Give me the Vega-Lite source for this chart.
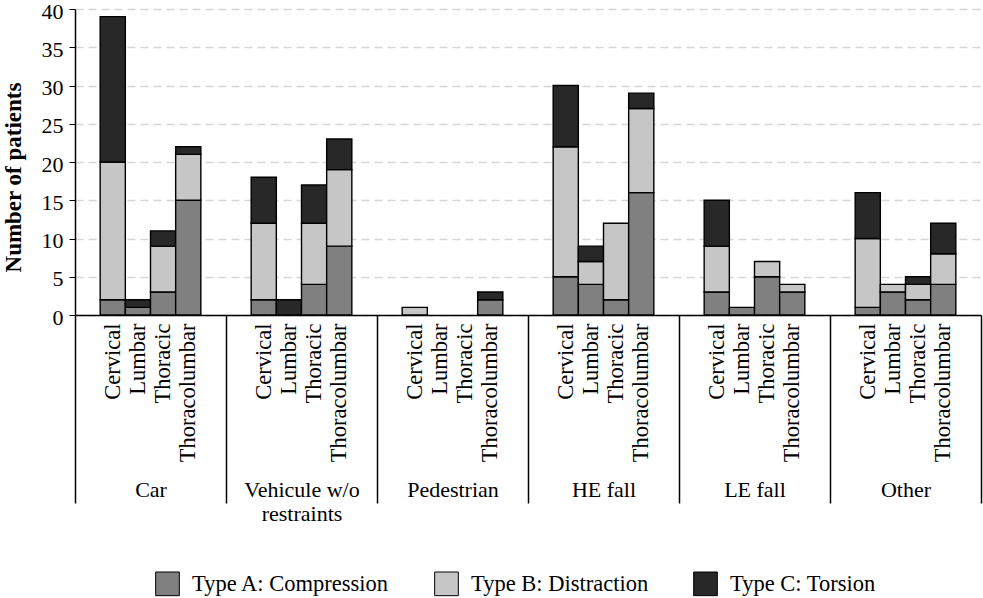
{
  "$schema": "https://vega.github.io/schema/vega-lite/v6.json",
  "width": 906,
  "height": 306,
  "autosize": {"type": "none"},
  "padding": {"left": 75, "top": 9, "right": 2, "bottom": 283},
  "background": "white",
  "config": {
    "view": {"stroke": null},
    "font": "Liberation Serif",
    "axis": {"labelFont": "Liberation Serif", "titleFont": "Liberation Serif", "labelColor": "black", "titleColor": "black"},
    "legend": {"labelFont": "Liberation Serif"}
  },
  "data": {
    "values": [
      {"group": "Car", "region": "Cervical", "type": "Type A: Compression", "count": 2},
      {"group": "Car", "region": "Cervical", "type": "Type B: Distraction", "count": 18},
      {"group": "Car", "region": "Cervical", "type": "Type C: Torsion", "count": 19},
      {"group": "Car", "region": "Lumbar", "type": "Type A: Compression", "count": 1},
      {"group": "Car", "region": "Lumbar", "type": "Type C: Torsion", "count": 1},
      {"group": "Car", "region": "Thoracic", "type": "Type A: Compression", "count": 3},
      {"group": "Car", "region": "Thoracic", "type": "Type B: Distraction", "count": 6},
      {"group": "Car", "region": "Thoracic", "type": "Type C: Torsion", "count": 2},
      {"group": "Car", "region": "Thoracolumbar", "type": "Type A: Compression", "count": 15},
      {"group": "Car", "region": "Thoracolumbar", "type": "Type B: Distraction", "count": 6},
      {"group": "Car", "region": "Thoracolumbar", "type": "Type C: Torsion", "count": 1},
      {"group": "Vehicule w/o restraints", "region": "Cervical", "type": "Type A: Compression", "count": 2},
      {"group": "Vehicule w/o restraints", "region": "Cervical", "type": "Type B: Distraction", "count": 10},
      {"group": "Vehicule w/o restraints", "region": "Cervical", "type": "Type C: Torsion", "count": 6},
      {"group": "Vehicule w/o restraints", "region": "Lumbar", "type": "Type C: Torsion", "count": 2},
      {"group": "Vehicule w/o restraints", "region": "Thoracic", "type": "Type A: Compression", "count": 4},
      {"group": "Vehicule w/o restraints", "region": "Thoracic", "type": "Type B: Distraction", "count": 8},
      {"group": "Vehicule w/o restraints", "region": "Thoracic", "type": "Type C: Torsion", "count": 5},
      {"group": "Vehicule w/o restraints", "region": "Thoracolumbar", "type": "Type A: Compression", "count": 9},
      {"group": "Vehicule w/o restraints", "region": "Thoracolumbar", "type": "Type B: Distraction", "count": 10},
      {"group": "Vehicule w/o restraints", "region": "Thoracolumbar", "type": "Type C: Torsion", "count": 4},
      {"group": "Pedestrian", "region": "Cervical", "type": "Type B: Distraction", "count": 1},
      {"group": "Pedestrian", "region": "Thoracolumbar", "type": "Type A: Compression", "count": 2},
      {"group": "Pedestrian", "region": "Thoracolumbar", "type": "Type C: Torsion", "count": 1},
      {"group": "HE fall", "region": "Cervical", "type": "Type A: Compression", "count": 5},
      {"group": "HE fall", "region": "Cervical", "type": "Type B: Distraction", "count": 17},
      {"group": "HE fall", "region": "Cervical", "type": "Type C: Torsion", "count": 8},
      {"group": "HE fall", "region": "Lumbar", "type": "Type A: Compression", "count": 4},
      {"group": "HE fall", "region": "Lumbar", "type": "Type B: Distraction", "count": 3},
      {"group": "HE fall", "region": "Lumbar", "type": "Type C: Torsion", "count": 2},
      {"group": "HE fall", "region": "Thoracic", "type": "Type A: Compression", "count": 2},
      {"group": "HE fall", "region": "Thoracic", "type": "Type B: Distraction", "count": 10},
      {"group": "HE fall", "region": "Thoracolumbar", "type": "Type A: Compression", "count": 16},
      {"group": "HE fall", "region": "Thoracolumbar", "type": "Type B: Distraction", "count": 11},
      {"group": "HE fall", "region": "Thoracolumbar", "type": "Type C: Torsion", "count": 2},
      {"group": "LE fall", "region": "Cervical", "type": "Type A: Compression", "count": 3},
      {"group": "LE fall", "region": "Cervical", "type": "Type B: Distraction", "count": 6},
      {"group": "LE fall", "region": "Cervical", "type": "Type C: Torsion", "count": 6},
      {"group": "LE fall", "region": "Lumbar", "type": "Type A: Compression", "count": 1},
      {"group": "LE fall", "region": "Thoracic", "type": "Type A: Compression", "count": 5},
      {"group": "LE fall", "region": "Thoracic", "type": "Type B: Distraction", "count": 2},
      {"group": "LE fall", "region": "Thoracolumbar", "type": "Type A: Compression", "count": 3},
      {"group": "LE fall", "region": "Thoracolumbar", "type": "Type B: Distraction", "count": 1},
      {"group": "Other", "region": "Cervical", "type": "Type A: Compression", "count": 1},
      {"group": "Other", "region": "Cervical", "type": "Type B: Distraction", "count": 9},
      {"group": "Other", "region": "Cervical", "type": "Type C: Torsion", "count": 6},
      {"group": "Other", "region": "Lumbar", "type": "Type A: Compression", "count": 3},
      {"group": "Other", "region": "Lumbar", "type": "Type B: Distraction", "count": 1},
      {"group": "Other", "region": "Thoracic", "type": "Type A: Compression", "count": 2},
      {"group": "Other", "region": "Thoracic", "type": "Type B: Distraction", "count": 2},
      {"group": "Other", "region": "Thoracic", "type": "Type C: Torsion", "count": 1},
      {"group": "Other", "region": "Thoracolumbar", "type": "Type A: Compression", "count": 4},
      {"group": "Other", "region": "Thoracolumbar", "type": "Type B: Distraction", "count": 4},
      {"group": "Other", "region": "Thoracolumbar", "type": "Type C: Torsion", "count": 4}
    ]
  },
  "transform": [{"calculate": "datum.group + '|' + datum.region", "as": "key"}],
  "layer": [
    {
      "mark": {"type": "bar", "stroke": "black", "strokeWidth": 1.4},
      "encoding": {
        "x": {
          "field": "key",
          "type": "nominal",
          "scale": {
            "domain": [
              "Car|~1", "Car|Cervical", "Car|Lumbar", "Car|Thoracic", "Car|Thoracolumbar", "Car|~2",
              "Vehicule w/o restraints|~1", "Vehicule w/o restraints|Cervical", "Vehicule w/o restraints|Lumbar", "Vehicule w/o restraints|Thoracic", "Vehicule w/o restraints|Thoracolumbar", "Vehicule w/o restraints|~2",
              "Pedestrian|~1", "Pedestrian|Cervical", "Pedestrian|Lumbar", "Pedestrian|Thoracic", "Pedestrian|Thoracolumbar", "Pedestrian|~2",
              "HE fall|~1", "HE fall|Cervical", "HE fall|Lumbar", "HE fall|Thoracic", "HE fall|Thoracolumbar", "HE fall|~2",
              "LE fall|~1", "LE fall|Cervical", "LE fall|Lumbar", "LE fall|Thoracic", "LE fall|Thoracolumbar", "LE fall|~2",
              "Other|~1", "Other|Cervical", "Other|Lumbar", "Other|Thoracic", "Other|Thoracolumbar", "Other|~2"
            ],
            "paddingInner": 0,
            "paddingOuter": 0
          },
          "axis": {
            "orient": "bottom",
            "title": null,
            "values": [
              "Car|Cervical", "Car|Lumbar", "Car|Thoracic", "Car|Thoracolumbar",
              "Vehicule w/o restraints|Cervical", "Vehicule w/o restraints|Lumbar", "Vehicule w/o restraints|Thoracic", "Vehicule w/o restraints|Thoracolumbar",
              "Pedestrian|Cervical", "Pedestrian|Lumbar", "Pedestrian|Thoracic", "Pedestrian|Thoracolumbar",
              "HE fall|Cervical", "HE fall|Lumbar", "HE fall|Thoracic", "HE fall|Thoracolumbar",
              "LE fall|Cervical", "LE fall|Lumbar", "LE fall|Thoracic", "LE fall|Thoracolumbar",
              "Other|Cervical", "Other|Lumbar", "Other|Thoracic", "Other|Thoracolumbar"
            ],
            "labelExpr": "split(datum.value, '|')[1]",
            "labelAngle": -90,
            "labelPadding": 8,
            "labelFontSize": 22.5,
            "labelLimit": 300,
            "ticks": false,
            "domainColor": "black",
            "domainWidth": 1.5,
            "labelOverlap": false
          }
        },
        "y": {
          "field": "count",
          "type": "quantitative",
          "stack": "zero",
          "scale": {"domain": [0, 40], "nice": false},
          "axis": {
            "title": "Number of patients",
            "titleFontSize": 23,
            "titleFontWeight": "bold",
            "titlePadding": 16,
            "titleY": 168,
            "values": [0, 5, 10, 15, 20, 25, 30, 35, 40],
            "labelOverlap": false,
            "labelFontSize": 22,
            "labelPadding": 6,
            "labelOffset": 2,
            "tickSize": 6,
            "tickColor": "black",
            "domainColor": "black",
            "domainWidth": 1.5,
            "grid": true,
            "gridColor": "#d6d6d6",
            "gridDash": [8, 5],
            "gridWidth": 1.5
          }
        },
        "color": {
          "field": "type",
          "type": "nominal",
          "scale": {
            "domain": ["Type A: Compression", "Type B: Distraction", "Type C: Torsion"],
            "range": ["#808080", "#c6c6c6", "#282828"]
          },
          "legend": {
            "orient": "none",
            "legendX": 80,
            "legendY": 562,
            "direction": "horizontal",
            "title": null,
            "symbolType": "square",
            "symbolSize": 560,
            "symbolStrokeColor": "black",
            "symbolStrokeWidth": 1,
            "symbolOpacity": 1,
            "labelFontSize": 22.5,
            "labelColor": "black",
            "labelOffset": 12,
            "columnPadding": 42,
            "labelLimit": 300
          }
        },
        "order": {"field": "type", "type": "nominal", "sort": "ascending"}
      }
    },
    {
      "mark": {"type": "bar", "opacity": 0},
      "encoding": {
        "x": {
          "field": "group",
          "type": "nominal",
          "scale": {
            "domain": ["Car", "Vehicule w/o restraints", "Pedestrian", "HE fall", "LE fall", "Other"],
            "paddingInner": 0,
            "paddingOuter": 0
          },
          "axis": {
            "orient": "bottom",
            "title": null,
            "labelAngle": 0,
            "tickBand": "extent",
            "tickSize": 188,
            "tickColor": "black",
            "tickWidth": 1.5,
            "domain": false,
            "labelFontSize": 22,
            "labelPadding": -24,
            "labelLineHeight": 24,
            "labelExpr": "datum.value == 'Vehicule w/o restraints' ? ['Vehicule w/o', 'restraints'] : datum.value"
          }
        },
        "y": {
          "field": "count",
          "type": "quantitative",
          "scale": {"domain": [0, 40], "nice": false},
          "axis": {
            "title": "Number of patients",
            "titleFontSize": 23,
            "titleFontWeight": "bold",
            "titlePadding": 16,
            "titleY": 168,
            "values": [0, 5, 10, 15, 20, 25, 30, 35, 40],
            "labelOverlap": false,
            "labelFontSize": 22,
            "labelPadding": 6,
            "labelOffset": 2,
            "tickSize": 6,
            "tickColor": "black",
            "domainColor": "black",
            "domainWidth": 1.5,
            "grid": true,
            "gridColor": "#d6d6d6",
            "gridDash": [8, 5],
            "gridWidth": 1.5
          }
        }
      }
    }
  ],
  "resolve": {"scale": {"x": "independent"}, "axis": {"x": "independent"}}
}
